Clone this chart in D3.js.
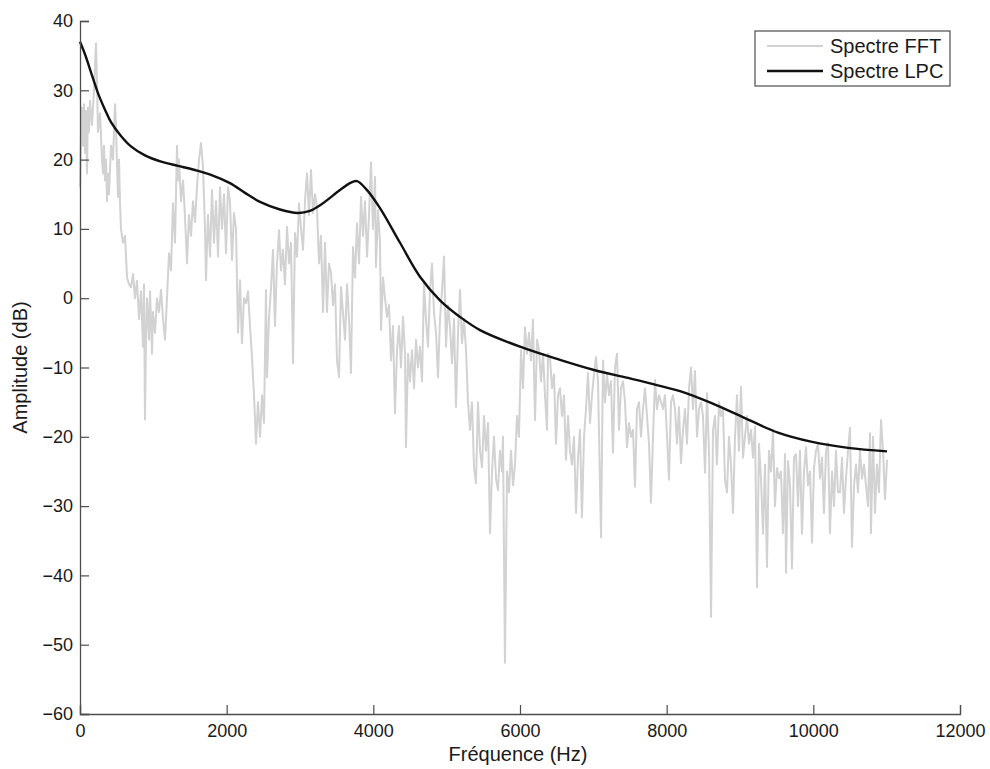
<!DOCTYPE html>
<html>
<head>
<meta charset="utf-8">
<script src="https://cdn.jsdelivr.net/npm/d3@7"></script>
<style>
  html, body { margin: 0; padding: 0; background: #fff; }
  svg { display: block; }
  text { font-family: "Liberation Sans", Arial, Helvetica, sans-serif; fill: #1a1a1a; }
</style>
</head>
<body>
<svg id="chart" width="990" height="769"></svg>
<script>
// ---------- data ----------
const xTicks = [0, 2000, 4000, 6000, 8000, 10000, 12000];
const yTicks = [-60, -50, -40, -30, -20, -10, 0, 10, 20, 30, 40];
const seriesNames = ["Spectre FFT", "Spectre LPC"];
const xLabel = "Fréquence (Hz)";
const yLabel = "Amplitude (dB)";

// FFT spectrum: [frequency Hz, amplitude dB]
const fftSpectrum = [
[0,16],[14,24],[27,27.5],[41,22],[55,28],[68,21],[82,27],[95,18],[109,27.5],[123,24],[136,28.5],[164,25],[191,30],[218,36.8],[232,31],[245,24],[273,26.7],[300,20],[314,18],[327,22],[341,17],[355,20],[368,14],[382,18],[395,15],[423,22],[450,20],[477,28],[491,25],[505,19],[518,14.6],[532,20],[545,14],[559,10],[586,8],[614,9],[641,3],[668,2],[695,1.6],[723,3.5],[750,0],[777,2.5],[805,-3],[832,1],[859,-7],[873,2],[886,-17.5],[900,-6],[914,0],[941,-6],[955,1],[982,-8],[995,-2],[1023,-5],[1050,0],[1077,-2],[1105,1.2],[1132,-3],[1159,-6],[1186,0],[1214,6.5],[1241,4],[1268,13.7],[1295,8],[1323,22],[1336,17],[1350,20],[1377,14],[1405,17],[1432,11.7],[1459,5],[1486,12],[1514,9],[1541,14],[1568,11],[1595,16],[1623,20],[1650,22.4],[1677,19],[1705,10],[1718,2.6],[1745,12],[1773,6],[1800,15.6],[1827,8],[1855,14],[1882,6],[1909,16],[1936,10],[1964,15],[1991,6.5],[2018,16],
[2045,14],[2073,5.5],[2100,12.3],[2127,10],[2155,-5],[2182,2.6],[2209,-6.5],[2236,0],[2264,-0.7],[2291,1],[2318,-4],[2345,-8.5],[2373,-14],[2400,-21],[2427,-15],[2455,-20],[2482,-14],[2509,-18],[2536,1.2],[2550,-11.4],[2577,-3],[2605,1.5],[2632,7],[2659,-4],[2686,5],[2714,9.8],[2741,4],[2768,7],[2795,2],[2823,10.3],[2850,5],[2877,8],[2905,-9.4],[2932,9.4],[2959,6],[2986,13.7],[3014,10],[3041,7],[3068,14],[3095,18],[3123,12],[3150,18.5],[3177,12.3],[3205,15],[3232,13],[3259,5],[3286,9],[3314,-2],[3341,8],[3368,-2],[3395,5],[3423,3.6],[3450,-1],[3477,2],[3505,-9],[3532,-11.4],[3559,1.6],[3586,-2],[3614,-6],[3641,2],[3668,-3],[3695,-10.8],[3723,7.4],[3750,3],[3777,10.8],[3805,5],[3832,14.6],[3859,9],[3886,14],[3914,6],[3941,12],[3968,19.6],[3995,10],[4023,17.5],[4036,4.5],[4064,12.7],[4091,8],
[4105,-4.6],[4132,3],[4159,0],[4186,-2.7],[4214,-1],[4241,-9],[4268,-4],[4295,-16.6],[4323,-7.5],[4350,-4],[4377,-10],[4405,-2.7],[4432,-8],[4445,-21.5],[4473,-8],[4500,-12],[4527,-7.5],[4555,-13],[4582,-6],[4609,-10],[4636,-7],[4664,-12],[4691,2.2],[4718,-3],[4745,-7],[4773,1],[4800,5],[4827,-2],[4855,-5],[4882,-11.4],[4909,-3],[4936,1],[4964,6],[4991,-7],[5018,-1],[5045,-4],[5073,-9.4],[5100,-3],[5127,-15.7],[5155,-5],[5182,1.2],[5209,-6.5],[5236,-3],[5264,-7.5],[5291,-15],[5318,-19],[5345,-15],[5373,-24.4],[5400,-26.7],[5427,-15],[5455,-22],[5482,-24.4],[5509,-17],[5536,-22],[5564,-18],[5591,-33.9],[5618,-25],[5645,-20],[5673,-26],[5700,-27.7],[5727,-22],[5755,-25],[5768,-20],[5795,-52.6],[5823,-25],[5850,-28],[5877,-22],[5905,-27],[5932,-24],[5959,-17],[5986,-20],[6014,-7.5],[6041,-13],[6068,-4.2],[6095,-8],
[6123,-5],[6150,-9],[6177,-3.1],[6205,-17.6],[6232,-6],[6259,-7.5],[6286,-12],[6314,-8],[6341,-14],[6368,-19],[6382,-8],[6409,-8.5],[6436,-13],[6464,-11],[6491,-21],[6518,-14],[6545,-13],[6573,-17],[6600,-14],[6627,-23.3],[6655,-17],[6682,-22],[6709,-24],[6736,-20],[6764,-31],[6791,-23],[6818,-19],[6845,-31.6],[6873,-20],[6900,-16],[6927,-10.8],[6955,-18],[6982,-14],[7009,-11],[7036,-8.5],[7064,-12],[7105,-34.5],[7132,-9],[7159,-15],[7186,-11],[7214,-14],[7241,-12],[7268,-22.3],[7295,-10],[7323,-8],[7350,-19],[7377,-13],[7405,-12],[7432,-15],[7459,-21.5],[7486,-18],[7514,-20],[7541,-19],[7568,-27.2],[7595,-16],[7623,-15],[7650,-20],[7677,-16],[7705,-13],[7732,-17],[7759,-21],[7786,-29.5],[7814,-20],[7841,-11.8],[7868,-16],[7895,-14],[7923,-15],[7950,-16],[7977,-14],[8005,-20],[8032,-26.2],[8059,-15],[8086,-14],[8114,-16],[8141,-21],
[8168,-15.7],[8195,-23.8],[8223,-19],[8250,-16],[8277,-21],[8305,-13],[8332,-10],[8359,-16],[8386,-10.5],[8414,-20],[8441,-16],[8468,-15],[8495,-17],[8523,-25.2],[8550,-13.7],[8577,-22],[8605,-46],[8632,-19],[8659,-17],[8686,-24],[8714,-15],[8741,-17],[8768,-16],[8795,-26.2],[8823,-28],[8850,-20],[8877,-24],[8905,-31],[8932,-20],[8959,-14],[8986,-22],[9014,-12.8],[9041,-23],[9068,-20],[9095,-17],[9123,-21],[9150,-19],[9177,-23],[9205,-18.5],[9232,-41.7],[9259,-21],[9286,-26],[9314,-34],[9341,-24],[9368,-38.8],[9395,-22],[9423,-25],[9450,-19],[9477,-30],[9505,-24.5],[9532,-26],[9559,-25],[9586,-33.9],[9614,-22.5],[9627,-39.6],[9655,-23.5],[9682,-27],[9709,-39],[9736,-23],[9764,-22.5],[9791,-30],[9818,-22],[9845,-34],[9873,-25],[9900,-21.5],[9927,-27],[9955,-25],[9982,-35.3],[10009,-24.5],[10036,-22],[10064,-21],[10091,-26],[10118,-23],[10145,-31],[10173,-22],[10200,-20.9],
[10227,-33.9],[10255,-25],[10282,-30],[10309,-22],[10336,-28],[10364,-28],[10391,-23],[10418,-31],[10445,-26],[10473,-22],[10500,-18.7],[10527,-35.9],[10555,-27],[10582,-24],[10609,-28],[10636,-22],[10664,-26],[10691,-24],[10718,-27],[10745,-30],[10773,-19.5],[10786,-33.9],[10814,-20],[10841,-31],[10868,-24],[10895,-28],[10923,-17.6],[10950,-22],[10977,-29],[11005,-23.3]
];

// LPC envelope: [frequency Hz, amplitude dB]
const lpcSpectrum = [
[0,37],[68,35.2],[150,32.6],[245,29.6],[341,27.2],[423,25.4],[559,23.4],[695,21.9],[886,20.6],[1105,19.7],[1336,19.1],[1568,18.5],[1786,17.8],[2045,16.6],[2250,15.2],[2455,13.9],[2727,12.8],[2970,12.3],[3136,12.6],[3273,13.4],[3545,15.6],[3680,16.6],[3777,16.9],[3914,15.6],[4091,13.0],[4364,8.0],[4636,3.1],[4909,-0.3],[5182,-2.7],[5455,-4.6],[6000,-7.0],[6545,-8.9],[7023,-10.4],[7473,-11.5],[7923,-12.7],[8182,-13.4],[8605,-15.1],[9068,-17.3],[9518,-19.4],[9968,-20.7],[10473,-21.6],[11005,-22.1]
];

// ---------- chart ----------
const svg = d3.select("#chart");
const plotLeft = 80, plotRight = 960, plotTop = 21, plotBottom = 714;
const x = d3.scaleLinear().domain([0, 12000]).range([plotLeft, plotRight]);
const y = d3.scaleLinear().domain([-60, 40]).range([plotBottom, plotTop]);

const axisColor = "#4d4d4d";

const fftLine = d3.line().x(d => x(d[0])).y(d => y(d[1]));
const lpcLine = d3.line().x(d => x(d[0])).y(d => y(d[1])).curve(d3.curveCatmullRom.alpha(0.5));

svg.append("path")
  .datum(fftSpectrum)
  .attr("fill", "none")
  .attr("stroke", "#d2d2d2")
  .attr("stroke-width", 2)
  .attr("stroke-linejoin", "round")
  .attr("d", fftLine);

svg.append("path")
  .datum(lpcSpectrum)
  .attr("fill", "none")
  .attr("stroke", "#111")
  .attr("stroke-width", 2.4)
  .attr("d", lpcLine);

// axes
const xAxis = d3.axisBottom(x).tickValues(xTicks).tickSize(-9).tickPadding(10).tickFormat(d3.format("d"));
const yAxis = d3.axisLeft(y).tickValues(yTicks).tickSize(-9).tickPadding(7).tickFormat(d3.format("d"));

const gx = svg.append("g").attr("transform", `translate(0,${plotBottom})`).call(xAxis);
const gy = svg.append("g").attr("transform", `translate(${plotLeft},0)`).call(yAxis);

[gx, gy].forEach(g => {
  g.select(".domain").attr("stroke", axisColor).attr("stroke-width", 1.3);
  g.selectAll(".tick line").attr("stroke", axisColor).attr("stroke-width", 1.2);
  g.selectAll(".tick text").attr("font-size", 18).attr("fill", "#1a1a1a")
    .style("font-family", "'Liberation Sans', Arial, sans-serif");
});

// axis titles
svg.append("text")
  .attr("x", (plotLeft + plotRight) / 2 - 2)
  .attr("y", 761)
  .attr("text-anchor", "middle")
  .attr("font-size", 20)
  .text(xLabel);

svg.append("text")
  .attr("transform", `translate(27,${(plotTop + plotBottom) / 2}) rotate(-90)`)
  .attr("text-anchor", "middle")
  .attr("font-size", 20)
  .text(yLabel);

// legend
const lg = svg.append("g");
lg.append("rect")
  .attr("x", 755).attr("y", 31).attr("width", 195).attr("height", 55)
  .attr("fill", "#fff").attr("stroke", axisColor).attr("stroke-width", 1.2);
const legendColors = ["#d2d2d2", "#111"];
seriesNames.forEach((name, i) => {
  const yy = 46 + i * 25;
  lg.append("line")
    .attr("x1", 767).attr("x2", 823).attr("y1", yy).attr("y2", yy)
    .attr("stroke", legendColors[i]).attr("stroke-width", i === 0 ? 2 : 2.4);
  lg.append("text")
    .attr("x", 830).attr("y", yy)
    .attr("dy", "0.35em")
    .attr("font-size", 20)
    .text(name);
});
</script>
</body>
</html>
